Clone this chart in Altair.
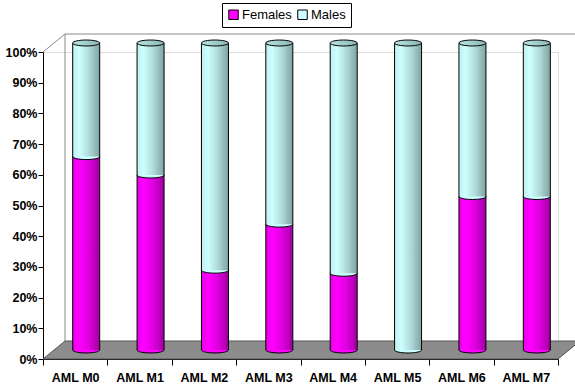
import altair as alt
import pandas as pd

# Share of females and males per AML FAB subtype (percent)
categories = ["AML M0", "AML M1", "AML M2", "AML M3", "AML M4", "AML M5", "AML M6", "AML M7"]
females = [63, 57, 26, 41, 25, 0, 50, 50]
males = [37, 43, 74, 59, 75, 100, 50, 50]
series = ["Females", "Males"]
series_colors = ["#FF00FF", "#CCFFFF"]
y_ticks = [0, 10, 20, 30, 40, 50, 60, 70, 80, 90, 100]

# plot area (front face of the 3-D box) and depth of the box
W, H = 515, 307
DX, DY = 22, 18
CYL_W = 27
FONT = "Liberation Sans"

rows = []
for c, f, m in zip(categories, females, males):
    rows.append({"cat": c, "sex": "Females", "lo": 0, "hi": f})
    rows.append({"cat": c, "sex": "Males", "lo": f, "hi": f + m})
df = pd.DataFrame(rows)

x_enc = alt.X(
    "cat:N",
    sort=categories,
    scale=alt.Scale(paddingInner=0, paddingOuter=0),
    axis=alt.Axis(
        title=None, labelAngle=0, tickBand="extent", tickSize=6,
        labelPadding=6, labelFont=FONT, labelFontSize=12.5, labelFontWeight="bold",
        labelColor="black", domainColor="black", tickColor="black",
    ),
)
y_scale = alt.Scale(domain=[0, 100], nice=False)
y_axis = alt.Axis(
    title=None, values=y_ticks, labelExpr="datum.value + '%'", tickSize=5,
    labelPadding=1, labelFont=FONT, labelFontSize=12.5, labelFontWeight="bold",
    labelColor="black", domainColor="black", tickColor="black", grid=False,
)

base = alt.Chart(df).encode(x=x_enc)

# floor of the box
floor_df = pd.DataFrame({
    "px": [0, DX, W, W + DX],
    "top": [H, H - DY, H - DY, H - DY],
    "bot": [H, H, H, H - DY],
})
floor = alt.Chart(floor_df).mark_area(
    color="#8C8C8C", stroke="#555555", strokeWidth=1
).encode(
    x=alt.X("px:Q", scale=None),
    y=alt.Y("top:Q", scale=None),
    y2="bot:Q",
)

# back and side wall edges
walls_df = pd.DataFrame({
    "x1": [0, DX, DX],
    "y1": [0, -DY, -DY],
    "x2": [DX, W + DX + 40, DX],
    "y2": [-DY, -DY, H - DY],
})
walls = alt.Chart(walls_df).mark_rule(color="#8A8A8A", strokeWidth=1).encode(
    x=alt.X("x1:Q", scale=None),
    y=alt.Y("y1:Q", scale=None),
    x2="x2:Q",
    y2="y2:Q",
)

ELLIPSE = "M -1 0 A 1 0.22 0 1 1 1 0 A 1 0.22 0 1 1 -1 0 Z"


def ellipse_layer(sex):
    return base.transform_filter(
        (alt.datum.sex == sex) & (alt.datum.hi > alt.datum.lo)
    ).mark_point(
        shape=ELLIPSE, size=CYL_W * CYL_W, filled=True, opacity=1,
        stroke="black", strokeWidth=1, xOffset=11, yOffset=-9,
    ).encode(
        y=alt.Y("lo:Q", scale=y_scale, axis=y_axis),
        color=alt.Color(
            "sex:N",
            scale=alt.Scale(domain=series, range=series_colors),
            legend=alt.Legend(
                title=None, orient="none", direction="horizontal",
                legendX=179, legendY=-49, symbolType="square", symbolSize=90,
                symbolStrokeColor="black", symbolStrokeWidth=1,
                labelFont=FONT, labelFontSize=13, labelColor="black",
                strokeColor="black", padding=5, columnPadding=3,
                labelOffset=2, symbolOpacity=1,
            ),
        ),
    )


def gradient(stops):
    return alt.Gradient(
        gradient="linear", x1=0, x2=1, y1=0, y2=0,
        stops=[alt.GradientStop(offset=o, color=c) for o, c in stops],
    )


def body_layer(sex, stops):
    return base.transform_filter(
        (alt.datum.sex == sex) & (alt.datum.hi > alt.datum.lo)
    ).mark_bar(
        size=CYL_W, color=gradient(stops), xOffset=11, yOffset=-9, y2Offset=-9,
    ).encode(
        y=alt.Y("hi:Q", scale=y_scale, axis=y_axis),
        y2="lo:Q",
    )


magenta = [(0, "#E800E8"), (0.25, "#FF00FF"), (0.6, "#E000E0"), (1, "#A000A0")]
cyan = [(0, "#C0F0F0"), (0.25, "#CCFFFF"), (0.6, "#B0DADA"), (1, "#7FA3A3")]

female_body = body_layer("Females", magenta)
male_body = body_layer("Males", cyan)


def side(offset):
    return base.transform_filter(alt.datum.sex == "Males").mark_rule(
        color="black", strokeWidth=1, xOffset=11 + offset, yOffset=-9, y2Offset=-9,
    ).encode(
        y=alt.Y("hi:Q", scale=y_scale, axis=y_axis),
        y2=alt.datum(0),
    )


cap = base.transform_filter(alt.datum.sex == "Males").mark_point(
    shape=ELLIPSE, size=CYL_W * CYL_W, filled=True, opacity=1,
    fill=gradient([(0, "#B8E4E4"), (1, "#8CB4B4")]),
    stroke="black", strokeWidth=1, xOffset=11, yOffset=-9,
).encode(
    y=alt.Y("hi:Q", scale=y_scale, axis=y_axis),
)

chart = alt.layer(
    floor, walls,
    ellipse_layer("Females"), female_body,
    ellipse_layer("Males"), male_body,
    side(-CYL_W / 2), side(CYL_W / 2),
    cap,
).resolve_scale(x="shared", y="shared").properties(
    width=W, height=H,
    autosize=alt.AutoSizeParams(type="none"),
    padding={"left": 43, "top": 52, "right": 17, "bottom": 27},
).configure_view(strokeWidth=0).configure(background="white")

chart.save("out.html", embed_options={"renderer": "svg", "actions": False})
